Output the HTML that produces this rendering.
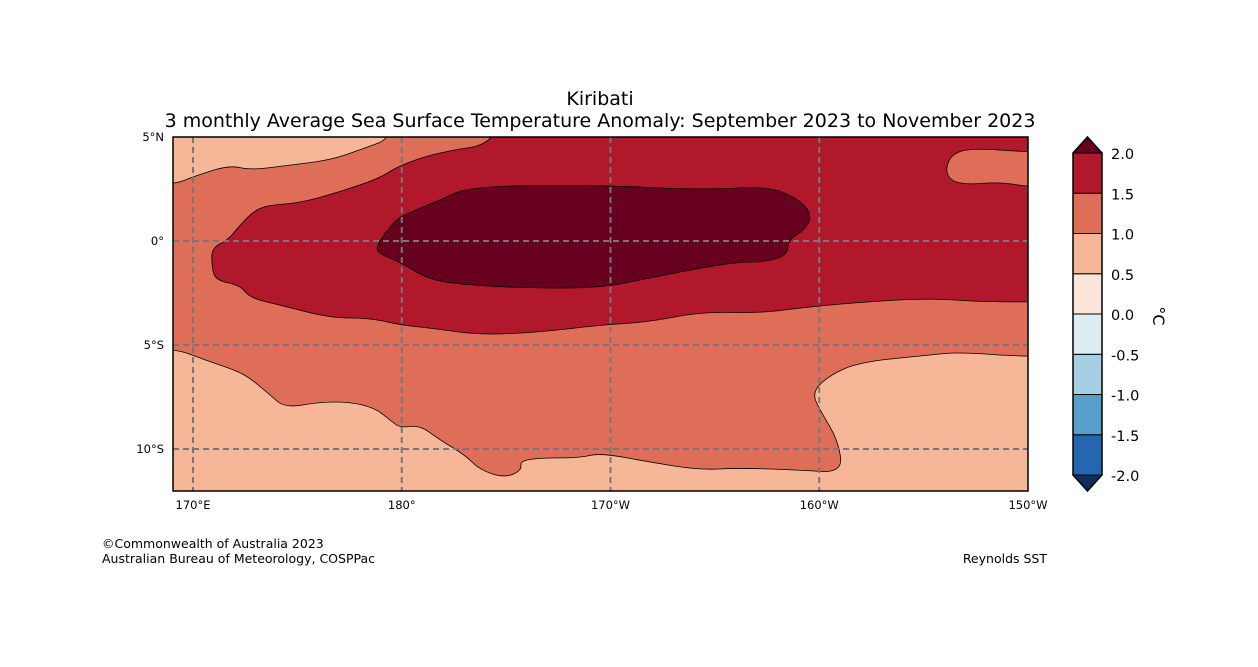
<!DOCTYPE html>
<html><head><meta charset="utf-8"><style>
body{margin:0;background:#fff;}
svg{display:block;font-family:"DejaVu Sans","Liberation Sans",sans-serif;}
</style></head><body>
<svg id="chart" width="1258" height="667" viewBox="0 0 1258 667">
<defs><clipPath id="mapclip"><rect x="173" y="137" width="855" height="354"/></clipPath></defs>
<text x="600" y="105" text-anchor="middle" font-size="19">Kiribati</text>
<text x="600" y="127" text-anchor="middle" font-size="19">3 monthly Average Sea Surface Temperature Anomaly: September 2023 to November 2023</text>
<g id="map" clip-path="url(#mapclip)"></g>
<g id="grid"></g>
<rect x="173" y="137" width="855" height="354" fill="none" stroke="#000" stroke-width="1.5"/>
<g id="ticks"></g>
<g id="cbar"></g>
<text x="1153" y="316" font-size="16" text-anchor="middle" transform="rotate(90 1153 316)">°C</text>
<text x="102" y="548" font-size="12.5">©Commonwealth of Australia 2023</text>
<text x="102" y="563" font-size="12.5">Australian Bureau of Meteorology, COSPPac</text>
<text x="1047" y="563" font-size="12.5" text-anchor="end">Reynolds SST</text>
</svg>
<script>
const lonTicks=[170,180,190,200,210];
const lonTickLabels=["170°E","180°","170°W","160°W","150°W"];
const latTicks=[5,0,-5,-10];
const latTickLabels=["5°N","0°","5°S","10°S"];
const levels=[-2.0,-1.5,-1.0,-0.5,0.0,0.5,1.0,1.5,2.0];
const levelColors=["#2567ae","#559fca","#a7cfe3","#e0ecf3","#fbe5d9","#f6b799","#de6e58","#b2182b"];
const underColor="#0b305f", overColor="#67001f";
const backgroundLevel=0.75;
const regionValues=[1.25,1.75,2.25];
const regionOrange=[[165,2.6],[169.04,2.69],[170.1,3.13],[171.77,3.65],[172.73,3.41],[174.65,3.65],[176.56,3.89],[178,4.38],[179.68,5],[179.7,8],[220,8],[220,-5.58],[210,-5.58],[206.74,-5.34],[205.3,-5.48],[201.95,-5.82],[200.51,-6.44],[199.65,-7.26],[200.03,-8.13],[200.9,-9.57],[201.14,-11.15],[199.07,-11.01],[196.2,-10.91],[194.29,-11.01],[191.89,-10.63],[189.5,-10.19],[188.54,-10.43],[186.62,-10.43],[185.66,-10.58],[185.76,-11.01],[184.95,-11.39],[183.75,-11.01],[183.03,-10.29],[181.83,-9.57],[180.87,-8.85],[179.92,-8.99],[179.44,-8.61],[178.72,-8.03],[177.52,-7.74],[176.08,-7.74],[174.41,-8.03],[173.69,-7.4],[172.73,-6.59],[172.0,-6.2],[170.57,-5.72],[169.04,-5.14],[165,-5.0]];
const regionRed=[[184.71,8],[184.71,4.71],[181.83,4.28],[179.92,3.65],[178.96,3.03],[177.04,2.36],[175.13,1.83],[173.69,1.73],[172.97,1.49],[172.25,0.77],[171.68,0.05],[170.9,-0.34],[170.9,-1.15],[171.05,-1.88],[172.25,-2.12],[172.73,-2.74],[174.17,-3.08],[176.56,-3.7],[178.48,-3.7],[179.92,-4.04],[181.35,-4.18],[183.75,-4.52],[186.62,-4.38],[189.5,-4.04],[191.89,-3.89],[194.29,-3.41],[197.16,-3.46],[199.07,-3.22],[201.47,-2.98],[205.3,-2.74],[207.7,-2.93],[212,-2.93],[220,-2.93],[220,2.6],[212,2.6],[210,2.6],[208.66,2.84],[206.74,2.69],[206.02,3.17],[206.26,4.13],[207.22,4.47],[210,4.28],[212,4.28],[220,4.28],[220,8]];
const regionDark=[[178.96,0.05],[179.68,1.01],[180.4,1.39],[181.83,1.97],[183.27,2.64],[189.5,2.69],[194.29,2.45],[197.64,2.64],[199.07,1.97],[199.65,1.25],[199.32,0.53],[198.5,0.05],[198.5,-0.67],[197.4,-1.01],[196.2,-1.01],[194.29,-1.3],[191.89,-1.78],[189.5,-2.26],[186.14,-2.26],[183.27,-2.12],[181.35,-1.88],[179.92,-1.01],[178.72,-0.53]];

const NS="http://www.w3.org/2000/svg";
const X=lon=>193+(lon-170)*20.875;
const Y=lat=>241-lat*20.8;
const CB=v=>153+(2.0-v)*80.5;
function colorFor(v){if(v>levels[levels.length-1])return overColor;if(v<levels[0])return underColor;for(let i=0;i<levelColors.length;i++){if(v>=levels[i]&&v<levels[i+1])return levelColors[i];}return overColor;}
function mk(tag,attrs,parent){const e=document.createElementNS(NS,tag);for(const k in attrs)e.setAttribute(k,attrs[k]);parent.appendChild(e);return e;}
function smoothPath(pts){const p=pts.map(d=>[X(d[0]),Y(d[1])]);const n=p.length;const mid=(a,b)=>[(a[0]+b[0])/2,(a[1]+b[1])/2];const m0=mid(p[n-1],p[0]);let d="M"+m0[0].toFixed(1)+","+m0[1].toFixed(1);for(let i=0;i<n;i++){const m=mid(p[i],p[(i+1)%n]);d+="Q"+p[i][0].toFixed(1)+","+p[i][1].toFixed(1)+" "+m[0].toFixed(1)+","+m[1].toFixed(1);}return d+"Z";}
const mapG=document.getElementById('map');
const bg=mk('rect',{x:173,y:137,width:855,height:354,fill:colorFor(backgroundLevel)},mapG);


const regions=[regionOrange,regionRed,regionDark];
const rnames=['anomaly-region-1.0-1.5','anomaly-region-1.5-2.0','anomaly-region-above-2.0'];
regions.forEach((r,i)=>{const p=mk('path',{d:smoothPath(r),fill:colorFor(regionValues[i]),stroke:'#000','stroke-width':0.8},mapG);

});
const gridG=document.getElementById('grid');
const ticksG=document.getElementById('ticks');
lonTicks.forEach((lon,i)=>{if(lon<210){const l=mk('line',{x1:X(lon),x2:X(lon),y1:137,y2:491,stroke:'#777','stroke-width':2,'stroke-dasharray':'6,4'},gridG);

}
const t=mk('text',{x:X(lon),y:509,'font-size':11.5,'text-anchor':'middle'},ticksG);t.textContent=lonTickLabels[i];

});
latTicks.forEach((lat,i)=>{if(lat<5){const l=mk('line',{x1:173,x2:1028,y1:Y(lat),y2:Y(lat),stroke:'#777','stroke-width':2,'stroke-dasharray':'6,4'},gridG);

}
const t=mk('text',{x:164,y:Y(lat)+4,'font-size':11.5,'text-anchor':'end'},ticksG);t.textContent=latTickLabels[i];

});
const cbG=document.getElementById('cbar');
const cx=1073,cw=29;
for(let i=0;i<levelColors.length;i++){const r=mk('rect',{x:cx,y:CB(levels[i+1]),width:cw,height:CB(levels[i])-CB(levels[i+1]),fill:levelColors[i],stroke:'#000','stroke-width':1},cbG);

}
const overTri=mk('polygon',{points:`${cx},${CB(2)} ${cx+cw/2},${CB(2)-16} ${cx+cw},${CB(2)}`,fill:overColor,stroke:'#000','stroke-width':1},cbG);


const underTri=mk('polygon',{points:`${cx},${CB(-2)} ${cx+cw/2},${CB(-2)+16} ${cx+cw},${CB(-2)}`,fill:underColor,stroke:'#000','stroke-width':1},cbG);


const cbFrame=mk('polygon',{points:`${cx},${CB(2)} ${cx+cw/2},${CB(2)-16} ${cx+cw},${CB(2)} ${cx+cw},${CB(-2)} ${cx+cw/2},${CB(-2)+16} ${cx},${CB(-2)}`,fill:'none',stroke:'#000','stroke-width':1.5},cbG);


levels.forEach(v=>{const t=mk('text',{x:1111,y:CB(v)+6,'font-size':14.5},cbG);t.textContent=v.toFixed(1);

});
</script>
</body></html>
